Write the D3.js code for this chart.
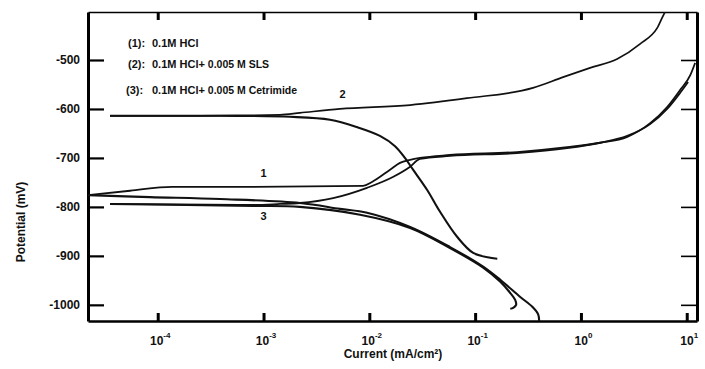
<!DOCTYPE html>
<html>
<head>
<meta charset="utf-8">
<script src="https://cdn.jsdelivr.net/npm/d3@7"></script>
<style>
  html, body { margin: 0; padding: 0; background: #fff; }
  svg { display: block; font-family: Arial, "Liberation Sans", sans-serif; }
</style>
</head>
<body>
<svg id="chart" width="705" height="369"></svg>
<script>
// ---- data: [current (mA/cm2), potential (mV)] ----
const hclAnodic = [[2.19e-5,-776],[5.48e-5,-767],[1.36e-4,-759],[7.45e-4,-759],[8.73e-3,-757],[1.06e-2,-749],[1.57e-2,-724],[1.95e-2,-710],[2.43e-2,-704],[3.01e-2,-700],[5.79e-2,-694],[0.249,-688],[0.740,-678],[1.52,-669],[2.74,-657],[4.51,-629],[6.53,-596],[8.67,-561],[10.8,-531],[12.0,-506]];
const hclCathodic = [[2.19e-5,-776],[8.45e-5,-780],[3.88e-4,-784],[2.21e-3,-792],[5.28e-3,-804],[9.51e-3,-812],[2.43e-2,-841],[5.79e-2,-882],[0.119,-922],[0.173,-949],[0.267,-984],[0.347,-1004],[0.395,-1020],[0.403,-1040]];
const slsAnodic = [[3.54e-5,-614],[2.51e-4,-614],[1.43e-3,-612],[2.21e-3,-608],[5.28e-3,-600],[2.43e-2,-592],[8.38e-2,-578],[0.352,-557],[0.678,-535],[1.22,-516],[2.20,-498],[3.63,-467],[5.25,-435],[6.25,-402],[6.6,-395]];
const slsCathodic = [[3.54e-5,-614],[3.88e-4,-614],[1.78e-3,-616],[4.25e-3,-622],[7.64e-3,-637],[1.26e-2,-655],[1.75e-2,-676],[2.17e-2,-700],[2.59e-2,-724],[3.51e-2,-765],[4.66e-2,-810],[6.75e-2,-861],[9.59e-2,-894],[0.139,-904],[0.162,-906]];
const cetAnodic = [[3.54e-5,-794],[7.96e-4,-796],[1.43e-3,-794],[2.21e-3,-792],[4.55e-3,-782],[9.51e-3,-761],[1.67e-2,-739],[2.43e-2,-718],[3.01e-2,-702],[5.79e-2,-696],[0.249,-690],[0.740,-680],[1.52,-669],[2.74,-655],[4.51,-631],[6.53,-600],[8.67,-567],[10.3,-545]];
const cetCathodic = [[3.54e-5,-794],[7.96e-4,-798],[2.21e-3,-800],[8.17e-3,-816],[2.43e-2,-843],[5.79e-2,-884],[0.119,-924],[0.173,-953],[0.215,-976],[0.239,-990],[0.244,-1000],[0.229,-1006],[0.215,-1008]];

const yTicks = [-500, -600, -700, -800, -900, -1000];
const xTickExps = [-4, -3, -2, -1, 0, 1];
const legendLabels = ["(1):", "(2):", "(3):"];
const legendTexts = [["0.1M HCl", ""], ["0.1M HCl+", " 0.005 M SLS"], ["0.1M HCl+", " 0.005 M Cetrimide"]];
const curveLabels = [{t: "2", i: 5.6e-3, e: -578}, {t: "1", i: 1.0e-3, e: -738}, {t: "3", i: 1.0e-3, e: -826}];

// ---- layout ----
const svg = d3.select("#chart");
const L = 88, T = 12, R = 697, B = 321;
const x = d3.scaleLog().domain([Math.pow(10, -4.659), Math.pow(10, 1.097)]).range([L, R]);
const y = d3.scaleLinear().domain([-402, -1033]).range([T, B]);

svg.append("clipPath").attr("id", "clip").append("rect")
  .attr("x", L).attr("y", T).attr("width", R - L).attr("height", B - T);

// axes
const xTickVals = xTickExps.map(e => Math.pow(10, e));

const gLeft = svg.append("g").attr("transform", `translate(${L},0)`)
  .call(d3.axisLeft(y).tickValues(yTicks).tickSize(-16).tickSizeOuter(0).tickPadding(8).tickFormat(d => d));
gLeft.select(".domain").attr("stroke-width", 3);
gLeft.selectAll(".tick line").attr("stroke-width", 2.2);
gLeft.selectAll(".tick text").attr("font-size", 12).attr("font-weight", "bold")
  .attr("font-family", "Arial, 'Liberation Sans', sans-serif").attr("fill", "#111");

const gRight = svg.append("g").attr("transform", `translate(${R},0)`)
  .call(d3.axisRight(y).tickValues(yTicks).tickSize(-16).tickSizeOuter(0).tickFormat(""));
gRight.select(".domain").attr("stroke-width", 3);
gRight.selectAll(".tick line").attr("stroke-width", 1.6);

const gTop = svg.append("g").attr("transform", `translate(0,${T})`)
  .call(d3.axisTop(x).tickValues(xTickVals).tickSize(-8).tickSizeOuter(0).tickFormat(""));
gTop.select(".domain").attr("stroke-width", 1.5);
gTop.selectAll(".tick line").attr("stroke-width", 3);

const gBottom = svg.append("g").attr("transform", `translate(0,${B})`)
  .call(d3.axisBottom(x).tickValues(xTickVals).tickSize(-8).tickSizeOuter(0).tickFormat(""));
gBottom.select(".domain").attr("stroke-width", 2.5);
gBottom.selectAll(".tick line").attr("stroke-width", 3);
gBottom.selectAll(".tick").each(function(d, i) {
  const t = d3.select(this).append("text")
    .attr("y", 24).attr("x", 2).attr("text-anchor", "middle")
    .attr("fill", "#111").attr("font-size", 12).attr("font-weight", "bold")
    .attr("font-family", "Arial, 'Liberation Sans', sans-serif");
  t.append("tspan").text("10");
  t.append("tspan").attr("font-size", 8).attr("dy", -7).text(String(xTickExps[i]));
});

// axis titles
svg.append("text").attr("x", 393).attr("y", 358).attr("text-anchor", "middle")
  .attr("font-size", 12).attr("font-weight", "bold").attr("fill", "#111")
  .text("Current (mA/cm²)");
svg.append("text").attr("transform", "translate(25,222) rotate(-90)").attr("text-anchor", "middle")
  .attr("font-size", 12).attr("font-weight", "bold").attr("fill", "#111")
  .text("Potential (mV)");

// curves
const lineMono = d3.line().x(d => x(d[0])).y(d => y(d[1])).curve(d3.curveMonotoneX);
const lineCR = d3.line().x(d => x(d[0])).y(d => y(d[1])).curve(d3.curveCatmullRom.alpha(0.5));
const gCurves = svg.append("g").attr("clip-path", "url(#clip)");
const series = [
  {d: hclAnodic, w: 1.8, l: lineMono}, {d: hclCathodic, w: 2.1, l: lineCR},
  {d: slsAnodic, w: 1.7, l: lineMono}, {d: slsCathodic, w: 2.1, l: lineCR},
  {d: cetAnodic, w: 1.8, l: lineMono}, {d: cetCathodic, w: 2.1, l: lineCR}
];
series.forEach(s => {
  gCurves.append("path").attr("d", s.l(s.d)).attr("fill", "none")
    .attr("stroke", "#111").attr("stroke-width", s.w).attr("stroke-linejoin", "round");
});

// legend
legendLabels.forEach((lab, i) => {
  const yy = [47, 68, 94][i];
  svg.append("text").attr("x", i === 2 ? 126 : 128).attr("y", yy)
    .attr("font-size", 11).attr("font-weight", "bold").attr("fill", "#111").text(lab);
  const t = svg.append("text").attr("x", 152).attr("y", yy)
    .attr("font-size", 11).attr("font-weight", "bold").attr("fill", "#111");
  t.append("tspan").text(legendTexts[i][0]);
  if (legendTexts[i][1]) t.append("tspan").attr("font-size", 10.5).text(legendTexts[i][1]);
});

// curve labels
curveLabels.forEach(c => {
  svg.append("text").attr("x", x(c.i)).attr("y", y(c.e)).attr("text-anchor", "middle")
    .attr("font-size", 11).attr("font-weight", "bold").attr("fill", "#111").text(c.t);
});
</script>
</body>
</html>
